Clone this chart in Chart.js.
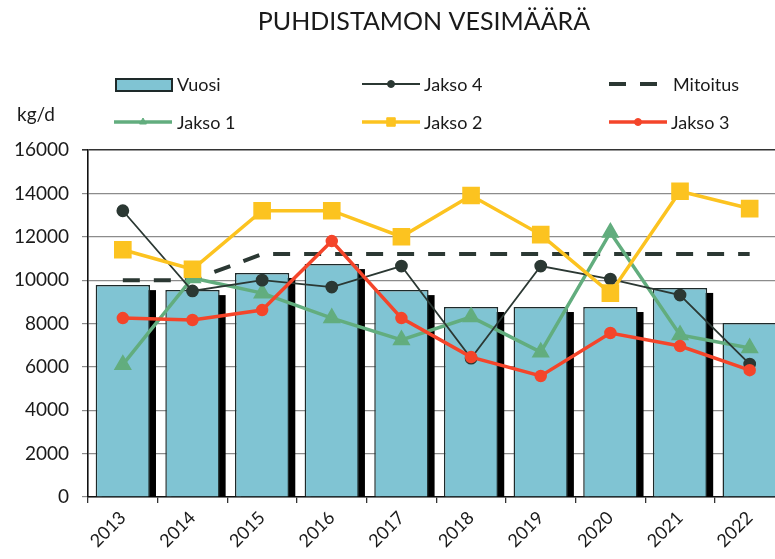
<!DOCTYPE html>
<html>
<head>
<meta charset="utf-8">
<script src="https://cdn.jsdelivr.net/npm/chart.js@4"></script>
<style>
  body { margin: 0; background: #fff; overflow: hidden; }
</style>
</head>
<body>
<canvas id="myChart" width="798" height="559"></canvas>
<script>
const years = ['2013', '2014', '2015', '2016', '2017', '2018', '2019', '2020', '2021', '2022'];
const vuosi = [9770, 9540, 10330, 10740, 9540, 8760, 8760, 8760, 9640, 8020];
const jakso1 = [6100, 10100, 9400, 8250, 7240, 8300, 6680, 12200, 7470, 6870];
const jakso2 = [11400, 10500, 13200, 13200, 12000, 13900, 12100, 9400, 14100, 13300];
const jakso3 = [8250, 8160, 8620, 11800, 8250, 6450, 5580, 7560, 6960, 5850];
const jakso4 = [13200, 9500, 10000, 9680, 10650, 6400, 10650, 10050, 9310, 6130];
const mitoitus = [10000, 10000, 11200, 11200, 11200, 11200, 11200, 11200, 11200, 11200];

const barColor = '#80c4d3';
const darkColor = '#2b3833';
const greenColor = '#62ad7e';
const yellowColor = '#fcc320';
const redColor = '#f4452a';
const font = 'Lato, "DejaVu Sans", sans-serif';

// black drop shadow behind the bars
const barShadow = {
    id: 'barShadow',
    beforeDatasetDraw(chart, args) {
        if (args.index !== 0) return;
        let ctx = chart.ctx;
        let area = chart.chartArea;
        ctx.save();
        ctx.beginPath();
        ctx.rect(area.left, area.top, area.right - area.left, area.bottom - area.top);
        ctx.clip();
        ctx.fillStyle = '#000';
        args.meta.data.forEach(bar => {
            let p = bar.getProps(['x', 'y', 'base', 'width'], true);
            ctx.fillRect(p.x - p.width / 2 + 6, p.y + 5, p.width, p.base - p.y);
        });
        ctx.restore();
    }
};

// title, unit and the two-row legend
const decorations = {
    id: 'decorations',
    afterDraw(chart) {
        let ctx = chart.ctx;
        ctx.save();
        ctx.fillStyle = '#1a1a1a';
        ctx.textBaseline = 'middle';
        ctx.textAlign = 'center';
        ctx.font = '25px ' + font;
        ctx.fillText('PUHDISTAMON VESIMÄÄRÄ', 424, 22);

        ctx.textAlign = 'left';
        ctx.font = '19px ' + font;
        ctx.fillText('kg/d', 17, 115);

        // Vuosi
        ctx.fillStyle = barColor;
        ctx.strokeStyle = '#1e2a2a';
        ctx.lineWidth = 2;
        ctx.fillRect(116, 79, 56, 12);
        ctx.strokeRect(116, 79, 56, 12);

        let items = [
            { ds: 4, x: 362, y: 84 },
            { ds: 1, x: 114, y: 122 },
            { ds: 2, x: 362, y: 122 },
            { ds: 3, x: 609, y: 122 }
        ];
        items.forEach(it => {
            let d = chart.data.datasets[it.ds];
            ctx.strokeStyle = d.borderColor;
            ctx.fillStyle = d.borderColor;
            ctx.lineWidth = d.borderWidth;
            ctx.beginPath();
            ctx.moveTo(it.x, it.y);
            ctx.lineTo(it.x + 58, it.y);
            ctx.stroke();
            ctx.lineWidth = 1;
            Chart.helpers.drawPoint(ctx, {
                pointStyle: d.pointStyle,
                radius: d.legendRadius,
                borderWidth: 1
            }, it.x + 29, it.y);
        });

        // Mitoitus
        ctx.strokeStyle = darkColor;
        ctx.lineWidth = 4;
        ctx.setLineDash([17, 14]);
        ctx.beginPath();
        ctx.moveTo(609, 84);
        ctx.lineTo(658, 84);
        ctx.stroke();
        ctx.setLineDash([]);

        ctx.fillStyle = '#1a1a1a';
        ctx.font = '18px ' + font;
        ctx.fillText('Vuosi', 177, 85);
        ctx.fillText('Jakso 4', 424, 85);
        ctx.fillText('Mitoitus', 673, 85);
        ctx.fillText('Jakso 1', 177, 123);
        ctx.fillText('Jakso 2', 424, 123);
        ctx.fillText('Jakso 3', 671, 123);
        ctx.restore();
    }
};

let data = {
    labels: years,
    datasets: [
        {
            type: 'bar',
            label: 'Vuosi',
            data: vuosi,
            backgroundColor: barColor,
            borderColor: '#1e2a2a',
            borderWidth: 1.5,
            categoryPercentage: 1,
            barPercentage: 0.78,
            order: 10
        },
        {
            type: 'line',
            label: 'Jakso 1',
            data: jakso1,
            borderColor: greenColor,
            backgroundColor: greenColor,
            borderWidth: 3.5,
            pointStyle: 'triangle',
            pointRadius: 7,
            legendRadius: 4,
            tension: 0,
            order: 5
        },
        {
            type: 'line',
            label: 'Jakso 2',
            data: jakso2,
            borderColor: yellowColor,
            backgroundColor: yellowColor,
            borderWidth: 3.5,
            pointStyle: 'rect',
            pointRadius: 10,
            legendRadius: 6,
            tension: 0,
            order: 2
        },
        {
            type: 'line',
            label: 'Jakso 3',
            data: jakso3,
            borderColor: redColor,
            backgroundColor: redColor,
            borderWidth: 3.5,
            pointStyle: 'circle',
            pointRadius: 4.5,
            legendRadius: 3.5,
            tension: 0,
            order: 3
        },
        {
            type: 'line',
            label: 'Jakso 4',
            data: jakso4,
            borderColor: darkColor,
            backgroundColor: darkColor,
            borderWidth: 1.8,
            pointStyle: 'circle',
            pointRadius: 5.5,
            legendRadius: 3.5,
            tension: 0,
            order: 4
        },
        {
            type: 'line',
            label: 'Mitoitus',
            data: mitoitus,
            borderColor: darkColor,
            borderWidth: 4,
            borderDash: [17, 14],
            pointRadius: 0,
            tension: 0,
            order: 6
        }
    ]
};

let config = {
    type: 'bar',
    data: data,
    plugins: [barShadow, decorations],
    options: {
        responsive: false,
        animation: false,
        layout: { padding: { left: 0, right: 5, top: 150, bottom: 0 } },
        plugins: {
            legend: { display: false },
            title: { display: false },
            tooltip: { enabled: false }
        },
        scales: {
            x: {
                offset: true,
                afterFit: scale => { scale.height = 62; },
                grid: {
                    offset: true,
                    drawOnChartArea: false,
                    tickLength: 6,
                    color: '#333',
                    lineWidth: 1.3
                },
                border: { color: '#111', width: 1.5 },
                ticks: {
                    minRotation: 45,
                    maxRotation: 45,
                    color: '#1a1a1a',
                    font: { family: font, size: 18 },
                    padding: 4
                }
            },
            y: {
                min: 0,
                max: 16000,
                afterFit: scale => { scale.width = 88; },
                ticks: {
                    stepSize: 2000,
                    callback: v => v,
                    color: '#1a1a1a',
                    font: { family: font, size: 19 },
                    padding: 13
                },
                grid: {
                    color: c => c.tick && c.tick.value === 16000 ? '#333' : '#8c8c8c',
                    lineWidth: c => c.tick && c.tick.value === 16000 ? 1.6 : 1.2,
                    tickLength: 6
                },
                border: { color: '#111', width: 1.6 }
            }
        }
    }
};

let myChart = new Chart(document.getElementById('myChart'), config);
</script>
</body>
</html>
